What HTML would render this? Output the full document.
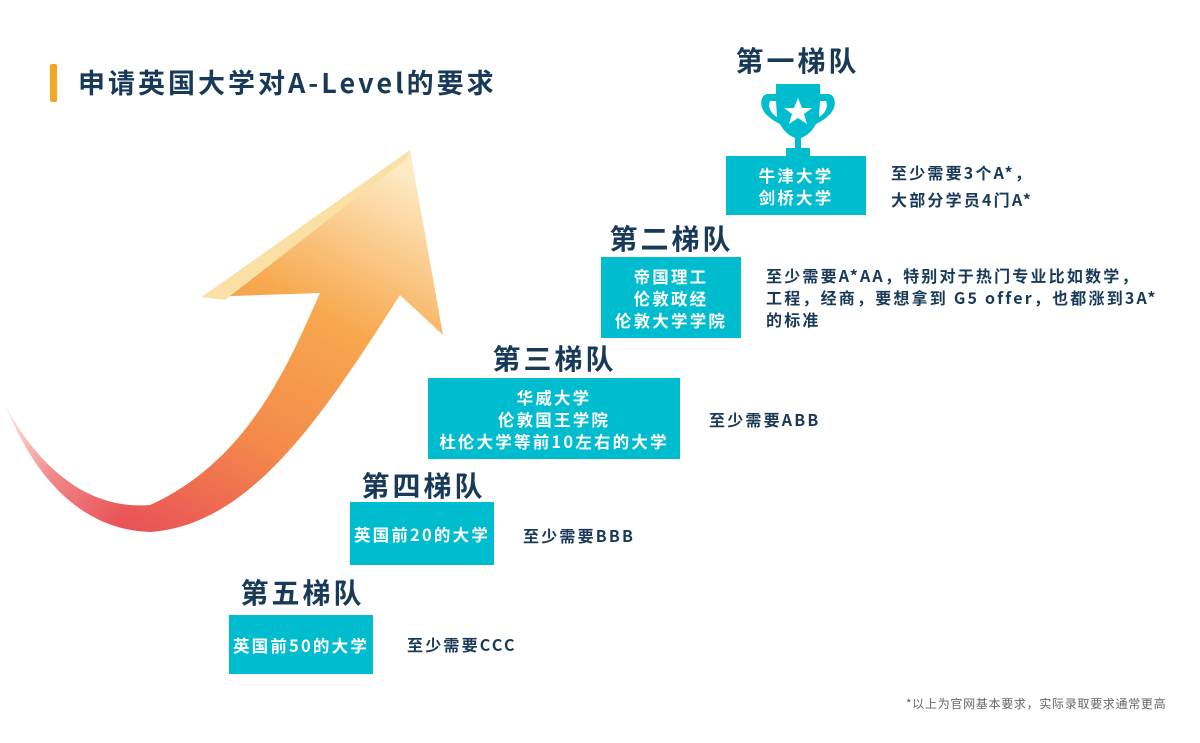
<!DOCTYPE html>
<html><head><meta charset="utf-8"><style>
body{margin:0;width:1200px;height:743px;background:#fff;position:relative;overflow:hidden;font-family:"Noto Sans CJK SC","Liberation Sans",sans-serif;}
.a{position:absolute}
.h{position:absolute;font-size:28px;line-height:36px;font-weight:bold;color:#183a58;text-align:center;white-space:nowrap;transform:translateX(-50%);letter-spacing:3px;text-indent:3px}
.b{position:absolute;background:#00bccf;color:#fff;font-weight:bold;font-size:16.5px;line-height:22px;letter-spacing:2.2px;display:flex;flex-direction:column;justify-content:center;align-items:center;text-align:center}
.t{position:absolute;color:#183a58;font-size:16px;font-weight:bold;line-height:22px;white-space:nowrap;letter-spacing:2.2px}
</style></head><body>
<div class="a" style="left:50px;top:64px;width:7px;height:38px;background:#f5a623;border-radius:2px"></div>
<div class="a" style="left:78px;top:62px;font-size:27px;line-height:40px;font-weight:bold;color:#183a58;white-space:nowrap;letter-spacing:3px">申请英国大学对A-Level的要求</div>
<svg class="a" style="left:0;top:0" width="460" height="560">
<defs>
<linearGradient id="g" x1="0.2" y1="1" x2="0.8" y2="0">
<stop offset="0" stop-color="#e84a5a"/><stop offset="0.35" stop-color="#f48a4a"/><stop offset="0.65" stop-color="#f7a84e"/><stop offset="1" stop-color="#fde9c2"/></linearGradient>
<linearGradient id="f" x1="0" y1="0" x2="1" y2="0.4"><stop offset="0" stop-color="#fff" stop-opacity="1"/><stop offset="0.5" stop-color="#fff" stop-opacity="0.3"/><stop offset="1" stop-color="#fff" stop-opacity="0"/></linearGradient>
</defs>
<path d="M5,405 C40,490 90,530 150,532 C250,525 320,420 400,295 L443,335 L410,150 L202,297 L320,293 C290,360 250,460 150,505 C90,510 40,470 5,405 Z" fill="url(#g)"/>
<path d="M202,297 L410,150 L405,160 L225,300 Z" fill="#fbe0a6"/>
<path d="M0,380 L130,380 L150,540 L0,540 Z" fill="url(#f)"/>
</svg>
<div class="h" style="left:796px;top:42px">第一梯队</div>
<svg class="a" style="left:758px;top:82px" width="80" height="76" viewBox="0 0 80 76">
<path d="M18,2 H62 V12 H70 C78,12 80,26 70,34 C66,38 62,40 58,42 C54,50 48,54 43,56 V66 H52 V76 H28 V66 H37 V56 C32,54 26,50 22,42 C18,40 14,38 10,34 C0,26 2,12 10,12 H18 Z M12,19 C9,26 14,32 19,35 L18,19 Z M68,19 L62,19 L61,35 C66,32 71,26 68,19 Z" fill="#00bccf" fill-rule="evenodd"/>
<polygon points="40,16 44,26 54,26 46,32 49,42 40,36 31,42 34,32 26,26 36,26" fill="#fff"/>
</svg>
<div class="b" style="left:726px;top:156px;width:140px;height:59px">牛津大学<br>剑桥大学</div>
<div class="t" style="left:891px;top:159px;line-height:27px">至少需要3个A*，<br>大部分学员4门A*</div>
<div class="h" style="left:670px;top:220px">第二梯队</div>
<div class="b" style="left:601px;top:257px;width:140px;height:81px">帝国理工<br>伦敦政经<br>伦敦大学学院</div>
<div class="t" style="left:766px;top:264px">至少需要A*AA，特别对于热门专业比如数学，<br>工程，经商，要想拿到 G5 offer，也都涨到3A*<br>的标准</div>
<div class="h" style="left:553px;top:340px">第三梯队</div>
<div class="b" style="left:428px;top:378px;width:252px;height:81px">华威大学<br>伦敦国王学院<br>杜伦大学等前10左右的大学</div>
<div class="t" style="left:709px;top:408px">至少需要ABB</div>
<div class="h" style="left:422px;top:467px">第四梯队</div>
<div class="b" style="left:350px;top:502px;width:144px;height:63px">英国前20的大学</div>
<div class="t" style="left:523px;top:524px">至少需要BBB</div>
<div class="h" style="left:301px;top:574px">第五梯队</div>
<div class="b" style="left:229px;top:615px;width:144px;height:59px">英国前50的大学</div>
<div class="t" style="left:407px;top:633px">至少需要CCC</div>
<div class="a" style="left:906px;top:696px;font-size:12px;line-height:16px;color:#666;white-space:nowrap;letter-spacing:0.7px">*以上为官网基本要求，实际录取要求通常更高</div>
</body></html>
